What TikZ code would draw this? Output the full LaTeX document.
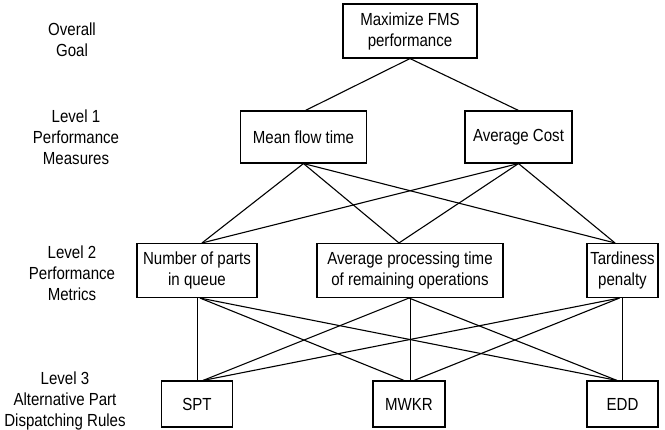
\documentclass[tikz,border=0pt]{standalone}
\usepackage{fontspec}
\setmainfont[FakeStretch=0.86]{Liberation Sans}
\begin{document}
\begin{tikzpicture}[x=1pt,y=-1pt,
  every node/.style={font=\fontsize{17.5}{21}\selectfont, align=center, inner sep=0pt},
  box/.style={draw, line width=1.1pt, minimum width=#1},
  lbl/.style={},
  link/.style={line width=1.1pt}]
\useasboundingbox (0,0) rectangle (665,430);
% boxes
\node[box=134, minimum height=54] (goal) at (410,31) {Maximize FMS\\performance};
\node[box=126, minimum height=52] (mft) at (303.5,137) {Mean flow time};
\node[box=107, minimum height=52] (ac) at (518.5,137) {Average Cost};
\node[box=120, minimum height=54] (npq) at (197,270.5) {Number of parts\\in queue};
\node[box=186, minimum height=54] (apt) at (410,270.5) {Average processing time\\of remaining operations};
\node[box=71, minimum height=54] (tp) at (622.5,270.5) {Tardiness\\penalty};
\node[box=71, minimum height=46] (spt) at (197,404) {SPT};
\node[box=72, minimum height=46] (mwkr) at (409,404) {MWKR};
\node[box=71, minimum height=46] (edd) at (622.5,404) {EDD};
% level labels
\node[lbl] (l0) at (72,40) {Overall\\Goal};
\node[lbl] (l1) at (76,137.5) {Level 1\\Performance\\Measures};
\node[lbl] (l2) at (72,273.5) {Level 2\\Performance\\Metrics};
\node[lbl] (l3) at (65,401) {Level 3\\Alternative Part\\Dispatching Rules};
% connectors level 0-1
\draw[link] (goal.south) -- ([xshift=2pt]mft.north);
\draw[link] (goal.south) -- (ac.north);
% level 1-2
\foreach \s in {mft,ac}{
  \draw[link] (\s.south) -- ([xshift=5pt]npq.north);
  \draw[link] (\s.south) -- ([xshift=-11pt]apt.north);
  \draw[link] (\s.south) -- ([xshift=-7.5pt]tp.north);
}
% level 2-3
\draw[link] ([xshift=0.5pt]npq.south) -- ([xshift=0.5pt]spt.north);
\draw[link] ([xshift=3pt]npq.south) -- ([xshift=-5pt]mwkr.north);
\draw[link] ([xshift=3pt]npq.south) -- ([xshift=-5.5pt]edd.north);
\draw[link] ([xshift=0.5pt]apt.south) -- ([xshift=1.5pt]mwkr.north);
\draw[link] ([xshift=-1pt]apt.south) -- ([xshift=6pt]spt.north);
\draw[link] ([xshift=-1pt]apt.south) -- ([xshift=-5.5pt]edd.north);
\draw[link] (tp.south) -- (edd.north);
\draw[link] ([xshift=-3pt]tp.south) -- ([xshift=6pt]spt.north);
\draw[link] ([xshift=-3pt]tp.south) -- ([xshift=5pt]mwkr.north);
\end{tikzpicture}
\end{document}
